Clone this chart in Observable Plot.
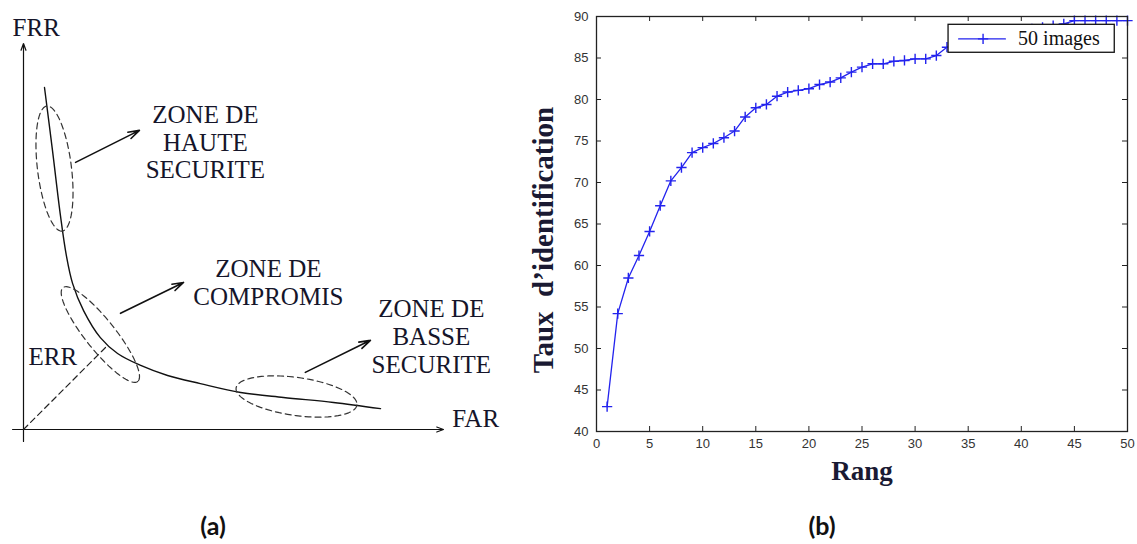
<!DOCTYPE html>
<html>
<head>
<meta charset="utf-8">
<script src="https://cdn.jsdelivr.net/npm/d3@7"></script>
<script src="https://cdn.jsdelivr.net/npm/@observablehq/plot@0.6"></script>
<style>
  html, body { margin: 0; padding: 0; background: #fff; }
  #page { position: relative; width: 1137px; height: 544px; overflow: hidden; }
  #panelA { position: absolute; left: 0; top: 0; }
  #panelB { position: absolute; left: 520px; top: 0; }
  .cap { position: absolute; top: 510px; font-family: Lato, "Open Sans", sans-serif; font-weight: 700; font-size: 25px; color: #111; transform: translateX(-50%); }
</style>
</head>
<body>
<div id="page">
  <div id="panelA"></div>
  <div id="panelB"></div>
  <div class="cap" style="left:213px">(a)</div>
  <div class="cap" style="left:822px">(b)</div>
</div>
<script>
// ---------- Panel (b) data ----------
const rangs = [1,2,3,4,5,6,7,8,9,10,11,12,13,14,15,16,17,18,19,20,21,22,23,24,25,
               26,27,28,29,30,31,32,33,34,35,36,37,38,39,40,41,42,43,44,45,46,47,48,49,50];
const taux  = [43.0,54.2,58.5,61.2,64.1,67.2,70.2,71.8,73.6,74.2,
               74.7,75.4,76.2,77.9,79.0,79.4,80.4,80.9,81.1,81.3,
               81.8,82.1,82.6,83.3,83.9,84.3,84.3,84.6,84.7,84.9,
               84.9,85.3,86.3,86.6,87.0,87.3,87.6,87.8,88.0,88.3,
               88.5,88.7,88.9,89.1,89.5,89.5,89.5,89.5,89.5,89.5];
const xTicks = [0,5,10,15,20,25,30,35,40,45,50];
const yTicks = [40,45,50,55,60,65,70,75,80,85,90];
const serieLabel = "50 images";
const xLabel = "Rang";
const yLabel = "Taux\u00a0\u00a0d\u2019identification";
// legend box (in data units)
const legendBox = [{x1: 33.15, x2: 48.8, y1: 85.63, y2: 89.0}];
const legendLine = [{x: 34.1, y: 87.3}, {x: 38.5, y: 87.3}];
const legendMark = [{x: 36.4, y: 87.3}];
const legendText = [{x: 39.7, y: 87.3, t: serieLabel}];

// ---------- Panel (a) data (schematic, FAR / FRR units) ----------
const curveFAR = [0.050,0.069,0.088,0.102,0.117,0.143,0.183,0.224,0.279,0.343,0.421,0.517,0.619,0.738,0.850];
const curveFRR = [0.886,0.723,0.554,0.451,0.378,0.308,0.238,0.197,0.166,0.140,0.119,0.096,0.083,0.070,0.054];
const zones = [
  {far: 0.0738, frr: 0.676, a: 63, b: 17, angle: 83},
  {far: 0.183,  frr: 0.246, a: 60, b: 15, angle: 51.5},
  {far: 0.650,  frr: 0.0855, a: 61, b: 19, angle: 8}
];
const zoneArrows = [
  {x1: 0.124, y1: 0.692, x2: 0.276, y2: 0.775},
  {x1: 0.231, y1: 0.301, x2: 0.381, y2: 0.381},
  {x1: 0.671, y1: 0.148, x2: 0.826, y2: 0.231}
];
const axesArrows = [
  {x1: -0.026, y1: 0, x2: 1.0, y2: 0},
  {x1: 0, y1: -0.031, x2: 0, y2: 1.0}
];
const errLine = [{far: 0, frr: 0}, {far: 0.2, frr: 0.2176}];
const zoneLabels = [
  {far: 0.433, frr: 0.746, t: "ZONE DE\nHAUTE\nSECURITE"},
  {far: 0.583, frr: 0.382, t: "ZONE DE\nCOMPROMIS"},
  {far: 0.971, frr: 0.241, t: "ZONE DE\nBASSE\nSECURITE"}
];
const axisLabels = [
  {far: 0.012, frr: 0.189, t: "ERR"},
  {far: 1.021, frr: 0.028, t: "FAR"},
  {far: -0.026, frr: 1.039, t: "FRR"}
];

// ---------- Panel (a) ----------
const WA = 520, HA = 460;
const xDomA = [-0.05476, 1.18333], yDomA = [-0.08031, 1.1114];
const SX = WA / (xDomA[1] - xDomA[0]);
const SY = HA / (yDomA[1] - yDomA[0]);
const ellipsePts = [];
zones.forEach((e, id) => {
  const th = e.angle * Math.PI / 180;
  for (let k = 0; k <= 90; k++) {
    const t = 2 * Math.PI * k / 90;
    const ex = e.a * Math.cos(t), ey = e.b * Math.sin(t);
    const px = ex * Math.cos(th) - ey * Math.sin(th);
    const py = ex * Math.sin(th) + ey * Math.cos(th);
    ellipsePts.push({far: e.far + px / SX, frr: e.frr - py / SY, id});
  }
});
const curveData = curveFAR.map((f, i) => ({far: f, frr: curveFRR[i]}));
const serifA = "Liberation Serif, 'DejaVu Serif', serif";

const plotA = Plot.plot({
  width: WA, height: HA,
  marginLeft: 0, marginRight: 0, marginTop: 0, marginBottom: 0,
  x: {domain: xDomA, axis: null},
  y: {domain: yDomA, axis: null},
  style: {background: "#fff"},
  marks: [
    Plot.arrow(axesArrows, {x1: "x1", y1: "y1", x2: "x2", y2: "y2", stroke: "#111", strokeWidth: 1.2, headLength: 9, headAngle: 40}),
    Plot.line(errLine, {x: "far", y: "frr", stroke: "#222", strokeWidth: 1.2, strokeDasharray: "6,4"}),
    Plot.line(curveData, {x: "far", y: "frr", stroke: "#111", strokeWidth: 1.4, curve: "catmull-rom"}),
    Plot.line(ellipsePts, {x: "far", y: "frr", z: "id", stroke: "#333", strokeWidth: 1.2, strokeDasharray: "6,4", curve: "linear"}),
    Plot.arrow(zoneArrows, {x1: "x1", y1: "y1", x2: "x2", y2: "y2", stroke: "#111", strokeWidth: 1.6, headLength: 11, headAngle: 35}),
    Plot.text(zoneLabels, {x: "far", y: "frr", text: "t", textAnchor: "middle", lineAnchor: "middle", lineHeight: 1.12,
      fontFamily: serifA, fontSize: 25, fill: "#15152a"}),
    Plot.text(axisLabels, {x: "far", y: "frr", text: "t", textAnchor: "start", lineAnchor: "middle",
      fontFamily: serifA, fontSize: 25, fill: "#15152a"})
  ]
});
document.getElementById("panelA").appendChild(plotA);

// ---------- Panel (b) ----------
const WB = 617, HB = 500, mL = 76, mR = 10, mT = 16, mB = 69;
const innerW = WB - mL - mR, innerH = HB - mT - mB;
const serie = rangs.map((r, i) => ({rang: r, taux: taux[i]}));
const blue = "#2323ee";
const serifB = "Liberation Serif, 'DejaVu Serif', serif";

const plotB = Plot.plot({
  width: WB, height: HB,
  marginLeft: mL, marginRight: mR, marginTop: mT, marginBottom: mB,
  x: {domain: [0, 50]},
  y: {domain: [40, 90]},
  style: {background: "transparent"},
  marks: [
    Plot.axisX({ticks: xTicks, tickSize: 0, tickPadding: 7, fontSize: 13, fill: "#333",
      fontFamily: "Liberation Sans, Arial, sans-serif", label: null}),
    Plot.axisY({ticks: yTicks, tickSize: 0, tickPadding: 8, fontSize: 13, fill: "#333",
      fontFamily: "Liberation Sans, Arial, sans-serif", label: null}),
    Plot.tickX(xTicks, {x: d => d, insetTop: innerH - 5, stroke: "#222"}),
    Plot.tickX(xTicks, {x: d => d, insetBottom: innerH - 5, stroke: "#222"}),
    Plot.tickY(yTicks, {y: d => d, insetRight: innerW - 5, stroke: "#222"}),
    Plot.tickY(yTicks, {y: d => d, insetLeft: innerW - 5, stroke: "#222"}),
    Plot.line(serie, {x: "rang", y: "taux", stroke: blue, strokeWidth: 1.3}),
    Plot.dot(serie, {x: "rang", y: "taux", symbol: "plus", r: 3.4, stroke: blue, strokeWidth: 1.4}),
    Plot.rect(legendBox, {x1: "x1", x2: "x2", y1: "y1", y2: "y2", fill: "#fff", stroke: "#111", strokeWidth: 1.3}),
    Plot.line(legendLine, {x: "x", y: "y", stroke: blue, strokeWidth: 1.3}),
    Plot.dot(legendMark, {x: "x", y: "y", symbol: "plus", r: 3.4, stroke: blue, strokeWidth: 1.4}),
    Plot.text(legendText, {x: "x", y: "y", text: "t", textAnchor: "start", fontSize: 20,
      fontFamily: serifB, fill: "#111"}),
    Plot.frame({stroke: "#222", strokeWidth: 1.3}),
    Plot.text([xLabel], {frameAnchor: "bottom", text: d => d, textAnchor: "middle", lineAnchor: "middle", dy: 40, fontSize: 27, fontWeight: "bold",
      fontFamily: serifB, fill: "#1a1a33"}),
    Plot.text([yLabel], {frameAnchor: "left", text: d => d, textAnchor: "middle", lineAnchor: "middle", rotate: -90, dx: -53, dy: 16, fontSize: 29, fontWeight: "bold",
      fontFamily: serifB, fill: "#1a1a33"})
  ]
});
document.getElementById("panelB").appendChild(plotB);
</script>
</body>
</html>
